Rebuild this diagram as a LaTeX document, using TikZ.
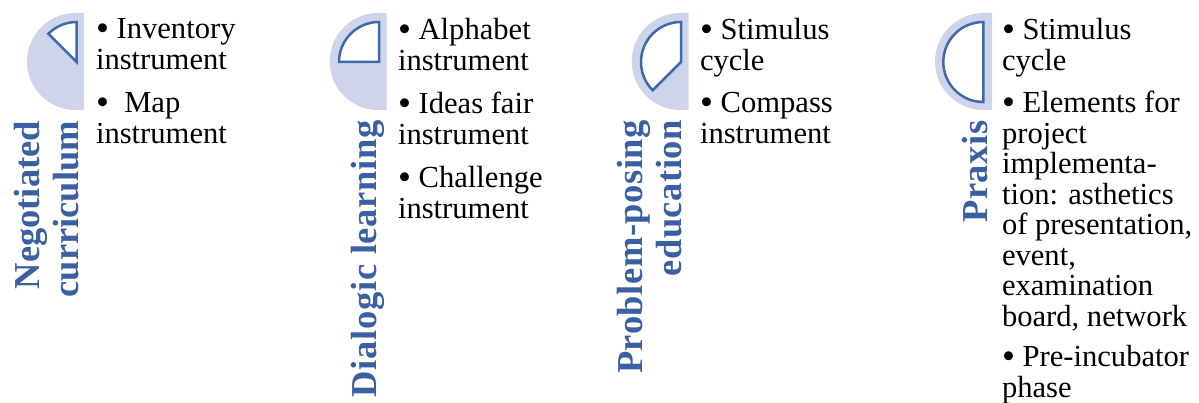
\documentclass[tikz,border=0pt]{standalone}
\usepackage{fontspec}
\setmainfont{Liberation Serif}
\definecolor{disc}{HTML}{CED5EA}
\definecolor{rim}{HTML}{3F68AE}
\definecolor{head}{HTML}{3B5FA3}
\newcommand{\bl}{\raisebox{-2.4pt}{\fontsize{37}{31}\selectfont•}\ }
\tikzset{
  x=1pt,y=1pt,
  discshape/.style={fill=disc,draw=none},
  sector/.style={draw=rim,line width=2.5pt,fill=white,line join=miter},
  item/.style={anchor=north west,inner sep=0pt,outer sep=0pt,align=left,text=black,
    font=\fontsize{30.6}{31}\selectfont},
  tightitem/.style={item,font=\fontsize{30.6}{30.5}\selectfont},
  title/.style={rotate=90,anchor=east,inner sep=0pt,outer sep=0pt,align=right,text=head,
    font=\fontsize{36.5}{39}\selectfont\bfseries},
  widetitle/.style={title,font=\fontsize{36.5}{39}\selectfont\bfseries\addfontfeatures{LetterSpace=#1}},
}
\begin{document}
\begin{tikzpicture}
\useasboundingbox (0,-403) rectangle (1199,0);
% panel 1
\path[discshape] (84,-13) -- (75.5,-13) arc[start angle=90,end angle=270,radius=48.5] -- (84,-110) -- cycle;
\draw[sector] (76.7,-62) -- (76.7,-22) arc[start angle=90,end angle=135,radius=40] -- cycle;
\node[item] (a1) at (96,-18) {\bl Inventory\\instrument};
\node[item] (a2) at (96,-92) {\bl\ Map\\instrument};
\node[title] (at) at (47,-121) {Negotiated\\curriculum};
% panel 2
\path[discshape] (386.7,-13) -- (378.2,-13) arc[start angle=90,end angle=270,radius=48.5] -- (386.7,-110) -- cycle;
\draw[sector] (379,-62) -- (379,-22) arc[start angle=90,end angle=180,radius=40] -- cycle;
\node[item] (b1) at (398,-18) {\bl Alphabet\\instrument};
\node[item] (b2) at (398,-92) {\bl Ideas fair\\instrument};
\node[item] (b3) at (398,-166) {\bl Challenge\\instrument};
\node[widetitle=2] (bt) at (368,-120) {Dialogic learning};
% panel 3
\path[discshape] (688.7,-13) -- (680.2,-13) arc[start angle=90,end angle=270,radius=48.5] -- (688.7,-110) -- cycle;
\draw[sector] (681,-62) -- (681,-22) arc[start angle=90,end angle=225,radius=40] -- cycle;
\node[item] (c1) at (700,-18) {\bl Stimulus\\cycle};
\node[item] (c2) at (700,-92) {\bl Compass\\instrument};
\node[widetitle=1.5] (ct) at (650,-120) {Problem-posing\\education};
% panel 4
\path[discshape] (992,-13) -- (983.5,-13) arc[start angle=90,end angle=270,radius=48.5] -- (992,-110) -- cycle;
\draw[sector] (983.3,-62) -- (983.3,-22) arc[start angle=90,end angle=270,radius=40] -- cycle;
\node[item] (d1) at (1002,-18) {\bl Stimulus\\cycle};
\node[tightitem] (d2) at (1002,-91) {\bl Elements for\\project\\implementa-\\tion: asthetics\\of presentation,\\event,\\examination\\board, network};
\node[item] (d3) at (1002,-345) {\bl Pre-incubator\\phase};
\node[widetitle=2] (dt) at (975,-120) {Praxis};
\end{tikzpicture}
\end{document}
